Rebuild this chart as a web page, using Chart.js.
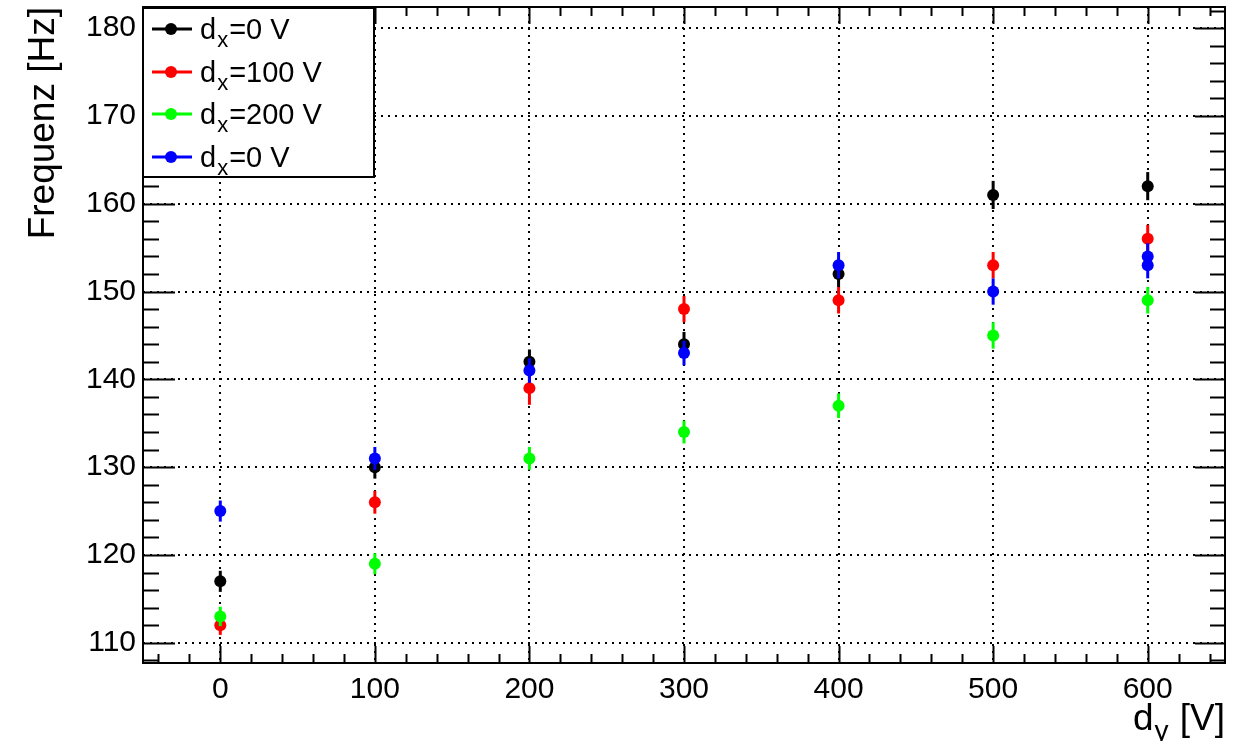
<!DOCTYPE html>
<html>
<head>
<meta charset="utf-8">
<script src="https://cdn.jsdelivr.net/npm/chart.js@4.4.1/dist/chart.umd.min.js"></script>
<style>
  html, body { margin: 0; padding: 0; background: #fff; }
  canvas { display: block; }
</style>
</head>
<body>
<canvas id="freqChart" width="1246" height="741"></canvas>
<script>
// Messwerte (d_y in V, Frequenz in Hz, Fehler in Hz)
const dyBlack = [0, 100, 200, 300, 400, 500, 600];
const fBlack = [117, 130, 142, 144, 152, 161, 162];
const errBlack = [1.2, 1.3, 1.4, 1.4, 1.5, 1.6, 1.6];

const dyRed = [0, 100, 200, 300, 400, 500, 600];
const fRed = [112, 126, 139, 148, 149, 153, 156];
const errRed = [1.1, 1.3, 1.9, 1.5, 1.5, 1.5, 1.6];

const dyGreen = [0, 100, 200, 300, 400, 500, 600];
const fGreen = [113, 119, 131, 134, 137, 145, 149];
const errGreen = [1.1, 1.2, 1.3, 1.3, 1.4, 1.5, 1.5];

const dyBlue = [0, 100, 200, 300, 400, 500, 600, 600];
const fBlue = [125, 131, 141, 143, 153, 150, 153, 154];
const errBlue = [1.2, 1.3, 1.4, 1.4, 1.5, 1.5, 1.5, 1.5];

const seriesColors = ['#000000', '#ff0000', '#00ff00', '#0000ff'];
const legendRest = ['=0 V', '=100 V', '=200 V', '=0 V'];

const xTicks = [0, 100, 200, 300, 400, 500, 600];
const yTicks = [110, 120, 130, 140, 150, 160, 170, 180];
const xRange = [-50, 650];
const yRange = [107.7, 182.4];
const xMinorStep = 20;
const yMinorStep = 2;

const FONT = '"Liberation Sans", Arial, Helvetica, sans-serif';

function toPoints(xs, ys) {
    return xs.map((x, i) => ({ x, y: ys[i] }));
}

function makeSet(xs, ys, errs, color, order) {
    return {
        data: toPoints(xs, ys),
        errors: errs,
        order: order,
        showLine: false,
        pointRadius: 6,
        pointHoverRadius: 6,
        pointBorderWidth: 0,
        pointBackgroundColor: color,
        pointBorderColor: color,
        borderColor: color,
        backgroundColor: color,
    };
}

// text like d_x=0 V with a subscript
function drawSubText(ctx, x, y, main, sub, rest, size) {
    const subSize = Math.round(size * 0.75);
    ctx.font = size + 'px ' + FONT;
    const w1 = ctx.measureText(main).width;
    ctx.fillText(main, x, y);
    ctx.font = subSize + 'px ' + FONT;
    const w2 = ctx.measureText(sub).width;
    ctx.fillText(sub, x + w1 + 1, y + size * 0.28);
    ctx.font = size + 'px ' + FONT;
    ctx.fillText(rest, x + w1 + w2 + 2, y);
}

function textWidth(ctx, main, sub, rest, size) {
    const subSize = Math.round(size * 0.75);
    ctx.font = size + 'px ' + FONT;
    let w = ctx.measureText(main).width + ctx.measureText(rest).width;
    ctx.font = subSize + 'px ' + FONT;
    w += ctx.measureText(sub).width + 2;
    return w;
}

const errorBars = {
    id: 'errorBars',
    beforeDatasetDraw(chart, args) {
        const ds = chart.data.datasets[args.index];
        const xs = chart.scales.x, ys = chart.scales.y;
        const ctx = chart.ctx;
        ctx.save();
        ctx.strokeStyle = ds.borderColor;
        ctx.lineWidth = 3;
        ds.data.forEach((p, i) => {
            const px = xs.getPixelForValue(p.x);
            ctx.beginPath();
            ctx.moveTo(px, ys.getPixelForValue(p.y - ds.errors[i]));
            ctx.lineTo(px, ys.getPixelForValue(p.y + ds.errors[i]));
            ctx.stroke();
        });
        ctx.restore();
    }
};

const rootFrame = {
    id: 'rootFrame',
    afterDraw(chart) {
        const ctx = chart.ctx;
        const a = chart.chartArea;
        const xs = chart.scales.x, ys = chart.scales.y;
        ctx.save();
        ctx.strokeStyle = '#000';
        ctx.lineWidth = 2;
        // y ticks, both sides, inside
        for (let v = Math.ceil(yRange[0] / yMinorStep) * yMinorStep; v <= yRange[1]; v += yMinorStep) {
            const py = Math.round(ys.getPixelForValue(v)) + 0.5;
            const major = yTicks.includes(v);
            const lenL = major ? 32 : 16;
            const lenR = major ? 30 : 15;
            ctx.beginPath();
            ctx.moveTo(a.left, py); ctx.lineTo(a.left + lenL, py);
            ctx.moveTo(a.right, py); ctx.lineTo(a.right - lenR, py);
            ctx.stroke();
        }
        // x ticks, bottom and top
        for (let v = Math.ceil(xRange[0] / xMinorStep) * xMinorStep; v <= xRange[1]; v += xMinorStep) {
            const px = Math.round(xs.getPixelForValue(v)) + 0.5;
            const major = xTicks.includes(v);
            const len = major ? 17 : 9;
            ctx.beginPath();
            ctx.moveTo(px, a.bottom); ctx.lineTo(px, a.bottom - len);
            ctx.moveTo(px, a.top); ctx.lineTo(px, a.top + len);
            ctx.stroke();
        }
        ctx.strokeRect(a.left, a.top, a.right - a.left, a.bottom - a.top);

        // axis titles
        ctx.fillStyle = '#000';
        ctx.textBaseline = 'alphabetic';
        ctx.save();
        ctx.translate(54, a.top);
        ctx.rotate(-Math.PI / 2);
        ctx.textAlign = 'right';
        ctx.font = '37px ' + FONT;
        ctx.fillText('Frequenz [Hz]', 0, 0);
        ctx.restore();

        ctx.textAlign = 'left';
        const tw = textWidth(ctx, 'd', 'y', ' [V]', 37);
        drawSubText(ctx, a.right - tw, 730, 'd', 'y', ' [V]', 37);

        // legend
        const lx = 143, ly = 8, lw = 231, lh = 169;
        ctx.fillStyle = '#fff';
        ctx.fillRect(lx, ly, lw, lh);
        ctx.strokeStyle = '#000';
        ctx.lineWidth = 2;
        ctx.strokeRect(lx, ly, lw, lh);
        const rows = [29, 72, 114, 157];
        rows.forEach((ry, i) => {
            ctx.strokeStyle = seriesColors[i];
            ctx.lineWidth = 3;
            ctx.beginPath();
            ctx.moveTo(152, ry); ctx.lineTo(192, ry);
            ctx.stroke();
            ctx.fillStyle = seriesColors[i];
            ctx.beginPath();
            ctx.arc(171, ry, 6, 0, Math.PI * 2);
            ctx.fill();
            ctx.fillStyle = '#000';
            drawSubText(ctx, 200, ry + 10, 'd', 'x', legendRest[i], 29);
        });
        ctx.restore();
    }
};

new Chart(document.getElementById('freqChart').getContext('2d'), {
    type: 'scatter',
    data: {
        datasets: [
            makeSet(dyBlack, fBlack, errBlack, seriesColors[0], 3),
            makeSet(dyRed, fRed, errRed, seriesColors[1], 2),
            makeSet(dyGreen, fGreen, errGreen, seriesColors[2], 1),
            makeSet(dyBlue, fBlue, errBlue, seriesColors[3], 0),
        ]
    },
    options: {
        responsive: false,
        animation: false,
        layout: { padding: { left: 0, top: 7, right: 21, bottom: 0 } },
        plugins: {
            legend: { display: false },
            tooltip: { enabled: false },
        },
        scales: {
            x: {
                type: 'linear',
                min: xRange[0],
                max: xRange[1],
                afterBuildTicks: s => { s.ticks = xTicks.map(v => ({ value: v })); },
                afterFit: s => { s.height = 78; s.paddingLeft = 0; s.paddingRight = 0; },
                grid: { color: '#000', lineWidth: 2, drawTicks: false },
                border: { display: false, dash: [2, 5] },
                ticks: {
                    color: '#000',
                    padding: 9,
                    maxRotation: 0,
                    font: { family: FONT, size: 30 },
                },
            },
            y: {
                type: 'linear',
                min: yRange[0],
                max: yRange[1],
                afterBuildTicks: s => { s.ticks = yTicks.map(v => ({ value: v })); },
                afterFit: s => { s.width = 143; s.paddingTop = 0; s.paddingBottom = 0; },
                grid: { color: '#000', lineWidth: 2, drawTicks: false },
                border: { display: false, dash: [2, 5] },
                ticks: {
                    color: '#000',
                    padding: 7,
                    font: { family: FONT, size: 30 },
                },
            },
        },
    },
    plugins: [errorBars, rootFrame],
});
</script>
</body>
</html>
